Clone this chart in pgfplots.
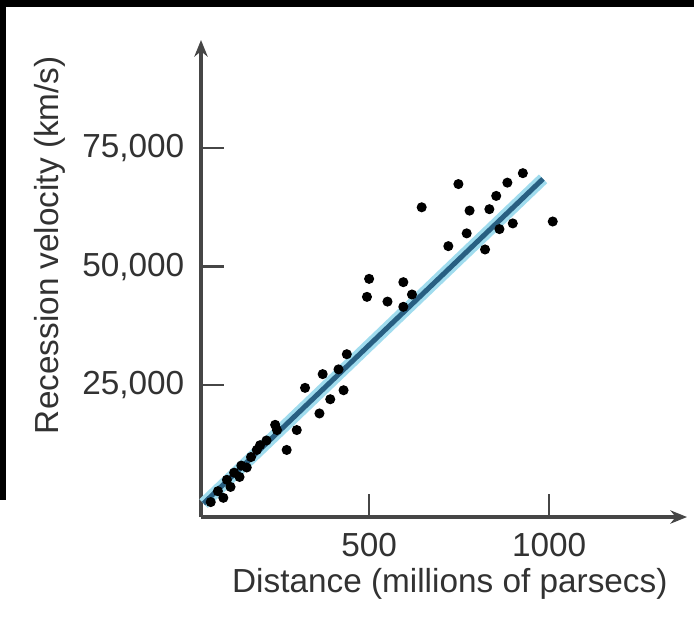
\documentclass[border=0pt]{standalone}
\usepackage{pgfplots}
\pgfplotsset{compat=1.18}
\usepackage{fontspec}
\setmainfont{Liberation Sans}
\usetikzlibrary{arrows.meta}
\definecolor{txt}{RGB}{50,50,50}
\definecolor{axc}{RGB}{70,70,70}
\definecolor{halo}{RGB}{160,220,238}
\definecolor{core}{RGB}{40,95,130}
\begin{document}
\begin{tikzpicture}
\fill[white] (0,0) rectangle (208.2pt,-187.5pt);
\fill[black] (0,0) rectangle (208.2pt,-2.1pt);
\fill[black] (0,0) rectangle (1.8pt,-150pt);
\begin{axis}[
  at={(60.3pt,-155.1pt)}, anchor=south west,
  scale only axis, width=145.8pt, height=143.1pt,
  xmin=33, xmax=1383, ymin=-2850, ymax=97800,
  axis lines=left,
  scaled y ticks=false, scaled x ticks=false,
  axis line style={draw=axc, line width=1.1pt, -{Stealth[length=5pt,width=4pt]}},
  xtick={500,1000}, xticklabels={500,1000},
  ytick={25000,50000,75000}, yticklabels={{25,000},{50,000},{75,000}},
  tick align=inside, major tick length=7pt,
  tick style={draw=axc, line width=0.8pt},
  ticklabel style={font=\fontsize{10}{12}\selectfont, text=txt},
  yticklabel style={xshift=-1.5pt},
  xticklabel style={yshift=-3.8pt, inner sep=1pt},
  xlabel={Distance (millions of parsecs)},
  ylabel={Recession velocity (km/s)},
  every axis x label/.style={at={(axis description cs:0.512,-0.14)}, anchor=center, inner sep=1pt, font=\fontsize{10}{12}\selectfont, text=txt},
  every axis y label/.style={at={(axis description cs:-0.31,0.570)}, anchor=center, rotate=90, font=\fontsize{10}{12}\selectfont, text=txt},
  clip=false,
]
\addplot[halo, line width=3.6pt] coordinates {(40,0) (983,68500)};
\addplot[core, line width=1.5pt] coordinates {(40,0) (983,68500)};
\addplot[only marks, mark=*, mark size=1.3pt, black] coordinates {
(60,300) (80,2600) (95,1200) (105,5000) (115,3500) (125,6500) (140,5600)
(145,8000) (160,7600) (172,9800) (188,11300) (197,12300) (215,13300) (239,16600)
(244,15500) (271,11300) (299,15500) (322,24400) (362,19000) (371,27300)
(392,22000) (415,28300) (429,23900) (438,31500)
(494,43600) (500,47400) (551,42600) (595,46700) (595,41500) (619,44100)
(646,62500) (720,54300) (748,67400) (771,57000) (779,61800) (822,53600)
(834,62100) (853,64900) (862,57900) (884,67700) (899,59100) (927,69700)
(1010,59500)
};
\end{axis}
\pgfresetboundingbox
\useasboundingbox (0,0) rectangle (208.2pt,-187.5pt);
\end{tikzpicture}
\end{document}
